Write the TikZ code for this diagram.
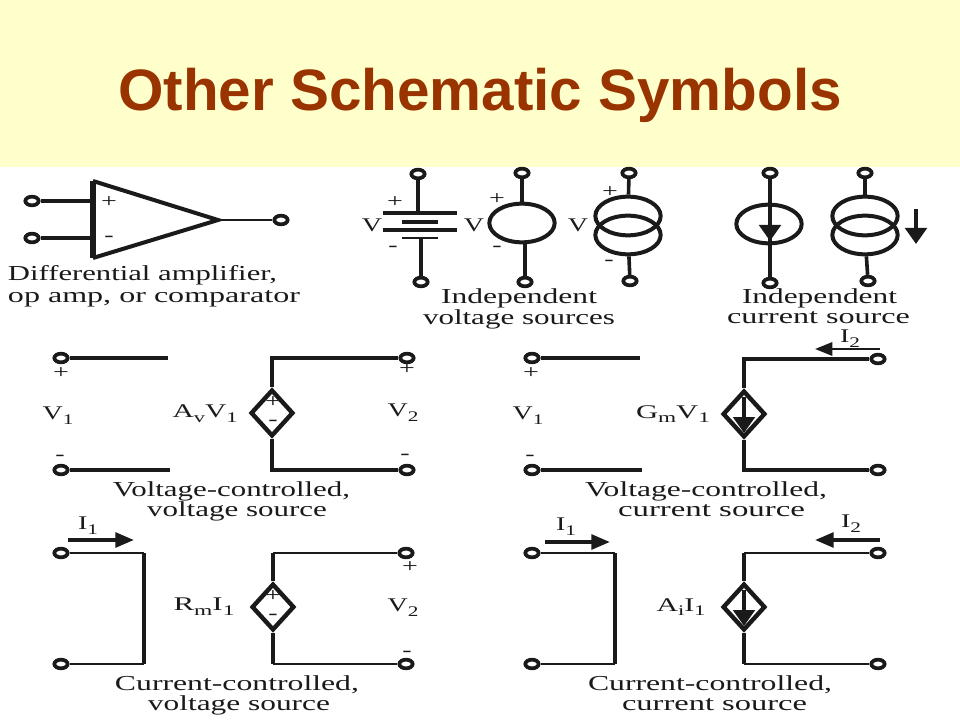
\documentclass[tikz,border=0pt]{standalone}
\usepackage{fontspec}
\usepackage{graphicx}
\usetikzlibrary{shapes.geometric,arrows.meta}
\setmainfont{Liberation Serif}
\newfontfamily\capfont[FakeStretch=1.3]{Liberation Serif}
\newfontfamily\symfont[FakeStretch=1.45]{Liberation Serif}
\newfontfamily\titlefont{Liberation Sans}
\newcommand{\subb}[1]{\raisebox{-3.5pt}{\fontsize{11}{11}\selectfont #1}}
\newcommand{\fitw}[2]{\resizebox{\dimexpr#1pt*3/4\relax}{\height}{#2}}
\definecolor{band}{HTML}{FFFFCC}
\definecolor{titlec}{HTML}{993300}
\definecolor{ink}{HTML}{1A1A1A}
\tikzset{
  wire/.style={line width=2.7pt,draw=ink},
  thin wire/.style={line width=2.1pt,draw=ink},
  term/.style={ellipse,draw=ink,line width=2.8pt,fill=white,minimum width=10pt,minimum height=6.5pt,inner sep=0pt},
  srcring/.style={ellipse,draw=ink,line width=3pt,minimum width=49pt,minimum height=29pt,inner sep=0pt},
  depsrc/.style={diamond,draw=ink,line width=3.3pt,fill=white,minimum width=32pt,minimum height=35pt,inner sep=0pt},
  lbl/.style={font=\capfont\fontsize{16}{17}\selectfont,text=ink,inner sep=0pt,anchor=base},
  sym/.style={font=\symfont\fontsize{14.5}{15}\selectfont,text=ink,inner sep=0pt},
  flow/.style={line width=2.8pt,draw=ink,-{Triangle[length=14pt,width=11pt,fill=ink]}},
  lightflow/.style={line width=1.7pt,draw=ink,-{Triangle[length=13pt,width=10pt,fill=ink]}},
  dflow/.style={line width=3pt,draw=ink,-{Triangle[length=12pt,width=16pt,fill=ink]}},
}
\begin{document}
\begin{tikzpicture}[x=0.75pt,y=-0.75pt]
\useasboundingbox (0,0) rectangle (960,720);
\fill[white] (0,0) rectangle (960,720);
\fill[band] (0,0) rectangle (960,167);
\node[anchor=base,text=titlec,inner sep=0pt,font=\titlefont\bfseries\fontsize{43.8}{46}\selectfont] (title) at (480,111) {Other Schematic Symbols};

% ---- op amp
\coordinate (oa1) at (93,181); \coordinate (oa2) at (93,258); \coordinate (oa3) at (218,220);
\coordinate (oaIn1) at (93,201); \coordinate (oaIn2) at (93,238);
\draw[line width=3pt,draw=ink,line join=miter] (oa1) -- (oa3) -- (oa2);
\draw[line width=4.2pt,draw=ink] (oa1) -- (oa2);
\node[term] (t1) at (32,201) {};
\node[term] (t2) at (32,238) {};
\node[term] (t3) at (281,220) {};
\draw[wire] (t1) -- (oaIn1);
\draw[wire] (t2) -- (oaIn2);
\draw[thin wire] (oa3) -- (t3);
\node[sym] (p1) at (109,202) {+};
\node[sym] (m1) at (109,239) {-};
\node[lbl] (c1a) at (142.5,281) {\fitw{269}{Differential amplifier,}};
\node[lbl] (c1b) at (154,302) {\fitw{292}{op amp, or comparator}};

% ---- battery
\node[term] (bt) at (418,174) {};
\node[term] (bb) at (421,282) {};
\coordinate (bp1) at (418,213); \coordinate (bp4) at (421,238);
\draw[wire] (bt) -- (bp1);
\draw[wire] (bp4) -- (bb);
\coordinate (pa1) at (383,213); \coordinate (pa2) at (457,213);
\coordinate (pb1) at (402,222); \coordinate (pb2) at (438,222);
\coordinate (pc1) at (383,230); \coordinate (pc2) at (457,230);
\coordinate (pd1) at (402,238); \coordinate (pd2) at (438,238);
\draw[wire] (pa1) -- (pa2);
\draw[line width=3.2pt,draw=ink] (pb1) -- (pb2);
\draw[wire] (pc1) -- (pc2);
\draw[thin wire] (pd1) -- (pd2);
\node[sym] (p2) at (395,202) {+};
\node[sym] (m2) at (393,249) {-};
\node[sym] (v2a) at (372,225) {V};

% ---- circle voltage source
\node[srcring] (vs) at (522,223) {};
\node[term] (vt) at (522,173) {};
\node[term] (vb) at (525,282) {};
\draw[wire] (vt) -- (vs);
\draw[line width=3.4pt,draw=ink] (vs.south -| vb) -- (vb);
\node[sym] (p3) at (497,199) {+};
\node[sym] (m3) at (497,249) {-};
\node[sym] (v3a) at (474,225) {V};

% ---- double ring voltage source
\node[srcring] (dr1) at (628,216) {};
\node[srcring] (dr2) at (628,235) {};
\node[term] (dt) at (629,173) {};
\node[term] (db) at (630,281) {};
\draw[wire] (dt) -- (dr1);
\draw[wire] (dr2) -- (db);
\node[sym] (p4) at (610,192) {+};
\node[sym] (m4) at (609,263) {-};
\node[sym] (v4a) at (578,225) {V};
\node[lbl] (c2a) at (519,304) {\fitw{156}{Independent}};
\node[lbl] (c2b) at (519,325) {\fitw{192}{voltage sources}};

% ---- current source ring
\node[srcring] (cs) at (769,224) {};
\node[term] (ct) at (770,173) {};
\node[term] (cb) at (770,283) {};
\coordinate (cmid) at (770,241);
\draw[line width=3.4pt,draw=ink] (ct) -- (cmid);
\draw[wire] (cmid) -- (cb);
\coordinate (ca1) at (770,210);
\draw[dflow] (ca1) -- (cmid);

% ---- current source double ring
\node[srcring] (er1) at (865,216) {};
\node[srcring] (er2) at (865,235) {};
\node[term] (et) at (865,173) {};
\node[term] (eb) at (868,281) {};
\draw[line width=3.4pt,draw=ink] (et) -- (er1);
\draw[wire] (er2) -- (eb);
\coordinate (ea1) at (916,209); \coordinate (ea2) at (916,244);
\draw[dflow] (ea1) -- (ea2);
\node[lbl] (c3a) at (819.5,303) {\fitw{155}{Independent}};
\node[lbl] (c3b) at (818.5,323) {\fitw{183}{current source}};

% ---- VCVS
\node[term] (a1) at (61,358) {};
\node[term] (a2) at (61,470) {};
\coordinate (a1e) at (168,358); \coordinate (a2e) at (170,470);
\draw[wire] (a1) -- (a1e);
\draw[wire] (a2) -- (a2e);
\node[sym] (ap1) at (61,373) {+};
\node[sym] (am1) at (60,458) {-};
\node[sym] (av1) at (58,416) {V\subb{1}};
\node[depsrc] (ad) at (272,413) {};
\node[term] (a3) at (407,358) {};
\node[term] (a4) at (407,470) {};
\draw[wire] (ad.north) -- (ad.north |- a3) -- (a3);
\draw[wire] (ad.south) -- (ad.south |- a4) -- (a4);
\node[sym] (adp) at (273,402) {+};
\node[sym] (adm) at (273,423) {-};
\node[sym] (ap2) at (407,369) {+};
\node[sym] (am2) at (405,457) {-};
\node[sym] (av2) at (403,413) {V\subb{2}};
\node[sym] (agn) at (205,414) {\fitw{65}{A\subb{v}V\subb{1}}};
\node[lbl] (c4a) at (231.5,496) {\fitw{237}{Voltage-controlled,}};
\node[lbl] (c4b) at (237,516) {\fitw{180}{voltage source}};

% ---- VCCS
\node[term] (b1) at (532,358) {};
\node[term] (b2) at (532,470) {};
\coordinate (b1e) at (640,358); \coordinate (b2e) at (642,470);
\draw[wire] (b1) -- (b1e);
\draw[wire] (b2) -- (b2e);
\node[sym] (bp1x) at (531,373) {+};
\node[sym] (bm1x) at (530,458) {-};
\node[sym] (bv1) at (528,416) {V\subb{1}};
\node[depsrc] (bd) at (744,414) {};
\node[term] (b3) at (878,359) {};
\node[term] (b4) at (878,470) {};
\draw[wire] (bd.north) -- (bd.north |- b3) -- (b3);
\draw[wire] (bd.south) -- (bd.south |- b4) -- (b4);
\coordinate (bda) at (744,397); \coordinate (bdb) at (744,433);
\draw[dflow] (bda) -- (bdb);
\coordinate (bi1) at (880,349); \coordinate (bi2) at (815,349);
\draw[lightflow] (bi1) -- (bi2);
\node[sym] (bi) at (850,339) {I\subb{2}};
\node[sym] (bgn) at (673,414) {\fitw{74}{G\subb{m}V\subb{1}}};
\node[lbl] (c5a) at (706,496) {\fitw{242}{Voltage-controlled,}};
\node[lbl] (c5b) at (711.5,516) {\fitw{187}{current source}};

% ---- CCVS
\node[term] (d1) at (61,553) {};
\node[term] (d2) at (61,664) {};
\coordinate (d1c) at (144,553); \coordinate (d2c) at (144,664);
\draw[thin wire] (d1) -- (d1c);
\draw[thin wire] (d2c) -- (d2);
\draw[wire] (d1c) -- (d2c);
\coordinate (di1) at (68,540); \coordinate (di2) at (134,540);
\draw[flow] (di1) -- (di2);
\node[sym] (di) at (88,526) {I\subb{1}};
\node[depsrc] (dd) at (273,607) {};
\node[term] (d3) at (406,553) {};
\node[term] (d4) at (406,664) {};
\draw[wire] (dd.north) -- (dd.north |- d3);
\draw[thin wire] (dd.north |- d3) -- (d3);
\draw[wire] (dd.south) -- (dd.south |- d4);
\draw[thin wire] (dd.south |- d4) -- (d4);
\node[sym] (ddp) at (273,596) {+};
\node[sym] (ddm) at (273,617) {-};
\node[sym] (dp2) at (410,567) {+};
\node[sym] (dm2) at (407,654) {-};
\node[sym] (dv2) at (403,608) {V\subb{2}};
\node[sym] (dgn) at (204,607) {\fitw{61}{R\subb{m}I\subb{1}}};
\node[lbl] (c6a) at (237,690) {\fitw{244}{Current-controlled,}};
\node[lbl] (c6b) at (239,710) {\fitw{182}{voltage source}};

% ---- CCCS
\node[term] (e1) at (532,553) {};
\node[term] (e2) at (532,664) {};
\coordinate (e1c) at (615,553); \coordinate (e2c) at (615,664);
\draw[thin wire] (e1) -- (e1c);
\draw[thin wire] (e2c) -- (e2);
\draw[wire] (e1c) -- (e2c);
\coordinate (ei1) at (545,542); \coordinate (ei2) at (610,542);
\draw[flow] (ei1) -- (ei2);
\node[sym] (ei) at (566,527) {I\subb{1}};
\node[depsrc] (ed) at (744,607) {};
\node[term] (e3) at (878,553) {};
\node[term] (e4) at (878,664) {};
\draw[wire] (ed.north) -- (ed.north |- e3);
\draw[thin wire] (ed.north |- e3) -- (e3);
\draw[wire] (ed.south) -- (ed.south |- e4);
\draw[thin wire] (ed.south |- e4) -- (e4);
\coordinate (eda) at (744,590); \coordinate (edb) at (744,626);
\draw[dflow] (eda) -- (edb);
\coordinate (ej1) at (880,540); \coordinate (ej2) at (815,540);
\draw[flow] (ej1) -- (ej2);
\node[sym] (ej) at (851,524) {I\subb{2}};
\node[sym] (egn) at (681,607) {\fitw{49}{A\subb{i}I\subb{1}}};
\node[lbl] (c7a) at (710,690) {\fitw{244}{Current-controlled,}};
\node[lbl] (c7b) at (714.5,710) {\fitw{185}{current source}};
\end{tikzpicture}
\end{document}
